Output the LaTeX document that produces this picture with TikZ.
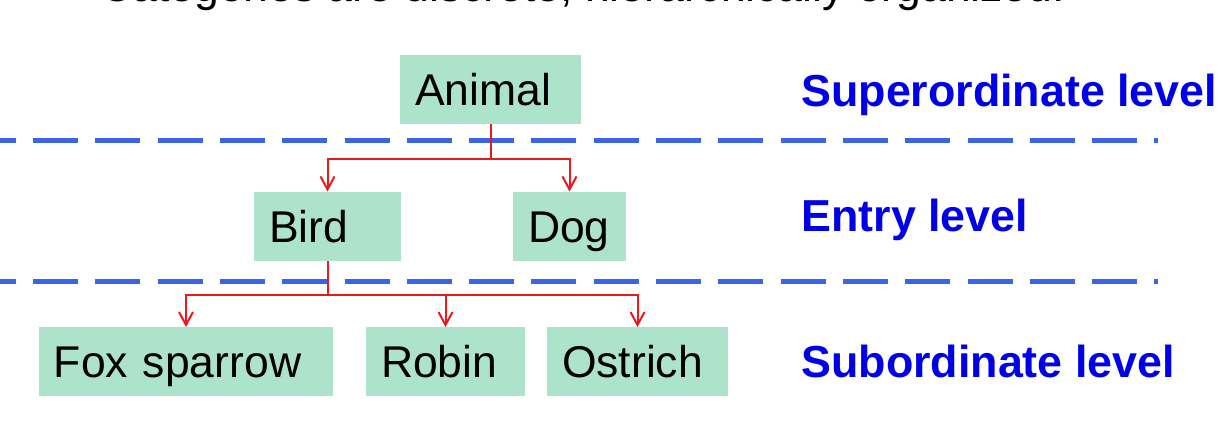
\documentclass[tikz,border=0pt]{standalone}
\usepackage{fontspec}
\setmainfont{Liberation Sans}
\usetikzlibrary{arrows.meta}
\definecolor{mint}{RGB}{173,227,203}
\definecolor{dashblue}{RGB}{60,100,232}
\definecolor{lblblue}{RGB}{0,0,232}
\definecolor{connred}{RGB}{236,24,28}
\begin{document}
\begin{tikzpicture}[x=0.5pt,y=-0.5pt,
  box/.style={fill=mint,draw=none,inner xsep=7.5pt,inner ysep=0pt,
    minimum height=34.5pt,align=left,text height=16pt,text depth=0pt,
    font=\fontsize{22.25pt}{26pt}\selectfont},
  lvl/.style={anchor=base west,inner sep=0pt,text=lblblue,
    font=\fontsize{22.4pt}{26pt}\selectfont\bfseries},
  sep/.style={draw=dashblue,line width=2.5pt,
    dash pattern=on 22.5pt off 8.65pt,dash phase=14.65pt},
  arr/.style={draw=connred,line width=1pt,
    -{Straight Barb[length=6.5pt,width=7pt,line width=1pt]}}]
\useasboundingbox (0,0) rectangle (1227,437);
\begin{scope}
\clip (0,0) rectangle (1227,437);
\node[anchor=base west,inner sep=0pt,font=\fontsize{22.25pt}{26pt}\selectfont]
  (title) at (100,1.5) {Categories are discrete, hierarchically organized.};
\end{scope}
% level separators
\coordinate (s1a) at (0,141);   \coordinate (s1b) at (1158,141);
\coordinate (s2a) at (0,282);   \coordinate (s2b) at (1158,282);
\draw[sep] (s1a) -- (s1b);
\draw[sep] (s2a) -- (s2b);
% boxes
\node[box,text width=75.5pt] (animal)  at (490.5,89.5) {Animal};
\node[box,text width=58.5pt] (bird)    at (327.5,226.5) {Bird};
\node[box,text width=41.5pt] (dog)     at (569.5,226.5) {Dog};
\node[box,text width=132pt]  (fox)     at (186,362) {Fox sparrow};
\node[box,text width=64.5pt] (robin)   at (445.5,362) {Robin};
\node[box,text width=75.5pt] (ostrich) at (637.5,362) {Ostrich};
% connectors
\draw[arr] (animal.south) -- ++(0,35) -| (bird.north);
\draw[arr] (animal.south) -- ++(0,35) -| (dog.north);
\draw[arr] (bird.south) -- ++(0,34) -| (fox.north);
\draw[arr] (bird.south) -- ++(0,34) -| (robin.north);
\draw[arr] (bird.south) -- ++(0,34) -| (ostrich.north);
% level labels
\node[lvl] (sup) at (801,107) {Superordinate level};
\node[lvl] (ent) at (801,232) {Entry level};
\node[lvl] (sub) at (801,378) {Subordinate level};
\end{tikzpicture}
\end{document}
